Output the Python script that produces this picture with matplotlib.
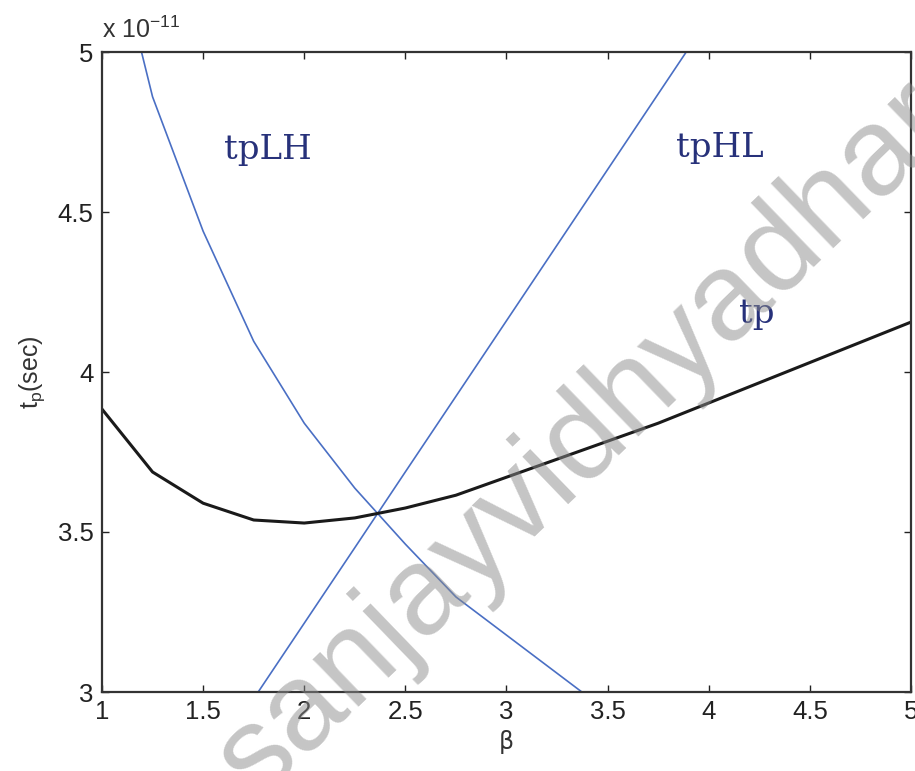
import matplotlib
matplotlib.use("Agg")
import matplotlib.pyplot as plt
from matplotlib.ticker import FuncFormatter

# PMOS/NMOS width ratio and propagation delays (seconds)
beta = [1.0, 1.25, 1.5, 1.75, 2.0, 2.25, 2.5, 2.75, 3.75, 5.0]
tpLH = [5.50e-11, 4.86e-11, 4.44e-11, 4.096e-11, 3.84e-11, 3.637e-11,
        3.462e-11, 3.297e-11, 2.82e-11, 2.26e-11]
tpHL = [2.27e-11, 2.506e-11, 2.743e-11, 2.979e-11, 3.215e-11, 3.451e-11,
        3.688e-11, 3.924e-11, 4.869e-11, 6.05e-11]
tp = [3.884e-11, 3.6875e-11, 3.59e-11, 3.5375e-11, 3.528e-11, 3.544e-11,
      3.575e-11, 3.615e-11, 3.84e-11, 4.156e-11]

x_ticks = [1, 1.5, 2, 2.5, 3, 3.5, 4, 4.5, 5]
y_ticks = [3e-11, 3.5e-11, 4e-11, 4.5e-11, 5e-11]

W, H = 915, 771
fig = plt.figure(figsize=(W / 100, H / 100), dpi=100)
ax = fig.add_axes([102 / W, 1 - 692 / H, (911 - 102) / W, (692 - 52) / H])

blue = "#4a6fc4"
ax.plot(beta, tpLH, color=blue, lw=1.2)
ax.plot(beta, tpHL, color=blue, lw=1.2)
ax.plot(beta, tp, color="#1a1a1a", lw=2.2)

ax.set_xlim(1, 5)
ax.set_ylim(3e-11, 5e-11)
ax.set_xticks(x_ticks)
ax.set_yticks(y_ticks)
ax.xaxis.set_major_formatter(FuncFormatter(lambda v, p: f"{v:g}"))
ax.yaxis.set_major_formatter(FuncFormatter(lambda v, p: f"{v / 1e-11:g}"))

tick_font = "Liberation Sans"
ax.tick_params(direction="in", length=5, width=1.0, top=True, right=True,
               labelsize=18.5, colors="#222222", pad=6)
for lab in ax.get_xticklabels() + ax.get_yticklabels():
    lab.set_fontfamily(tick_font)
for s in ax.spines.values():
    s.set_linewidth(1.6)
    s.set_color("#333333")

ax.set_xlabel("β", fontsize=17, family="DejaVu Sans", color="#333333", labelpad=4)
ax.set_ylabel(r"t$_\mathregular{p}$(sec)", fontsize=18, family=tick_font,
              color="#333333", labelpad=8)

fig.text(102 / W, 1 - 30 / H, r"x 10$^\mathregular{-11}$", fontsize=18,
         family=tick_font, color="#333333", va="center", ha="left")

navy = "#27317a"
for label, xv, yv in [("tpLH", 268, 150), ("tpHL", 720, 148), ("tp", 757, 314)]:
    fig.text(xv / W, 1 - yv / H, label, fontsize=24.5, family="DejaVu Serif",
             color=navy, ha="center", va="center")

# faint diagonal watermark across the plot
fig.text(585 / W, 1 - 440 / H, "sanjayvidhyadhar", fontsize=90,
         family="Liberation Sans", color="#8c8c8c", alpha=0.5, rotation=44,
         ha="center", va="center", zorder=10)

fig.savefig("out.png", dpi=100)
